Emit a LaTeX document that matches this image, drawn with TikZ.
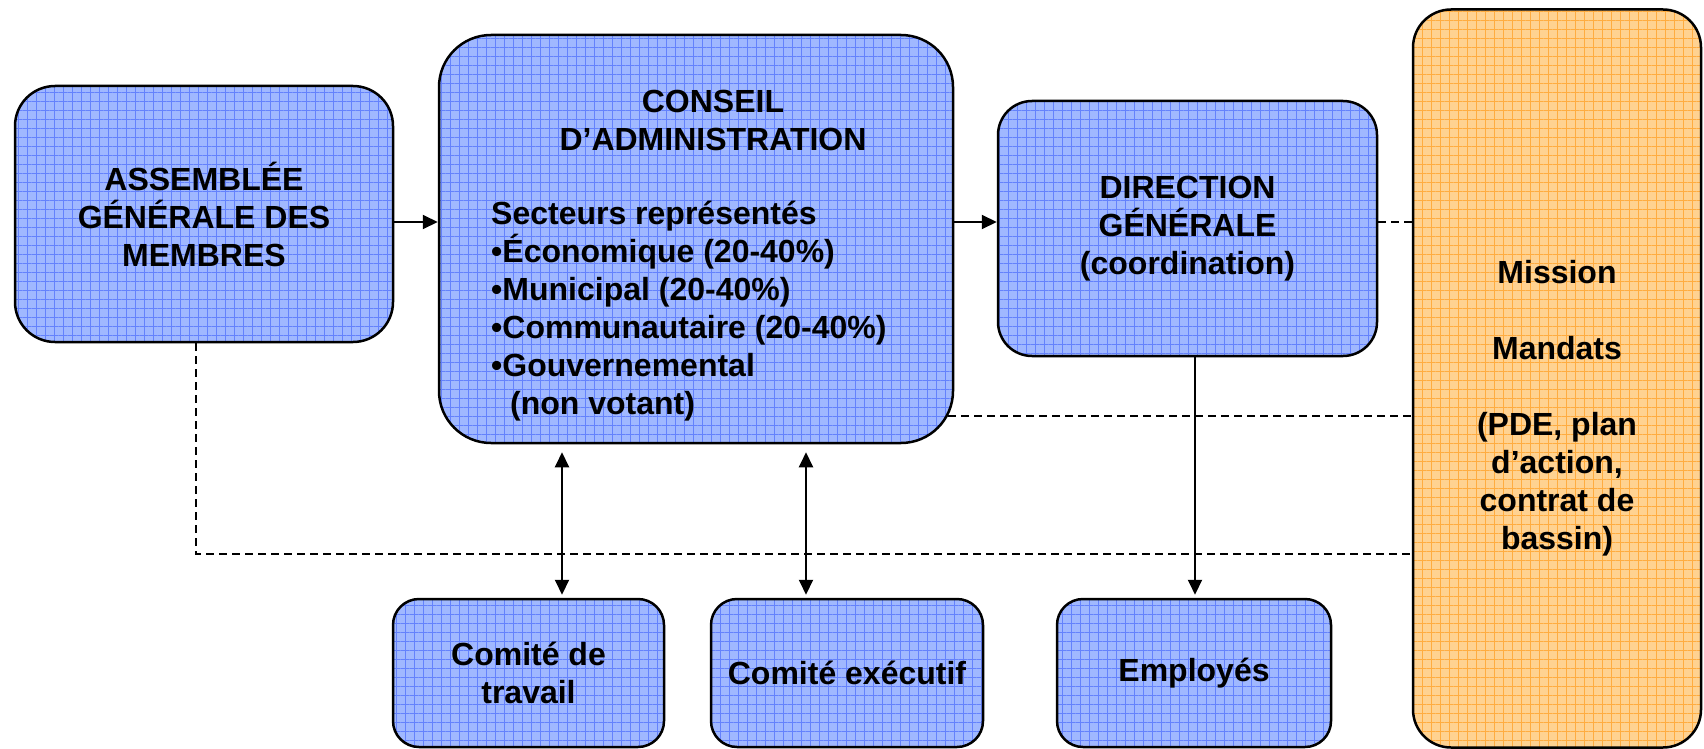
\documentclass[tikz,border=0pt]{standalone}
\usepackage{fontspec}
\setmainfont{Liberation Sans}
\usetikzlibrary{patterns.meta,arrows.meta}
\definecolor{boxblue}{RGB}{160,184,255}
\definecolor{gridblue}{RGB}{100,130,252}
\definecolor{boxorange}{RGB}{255,210,145}
\definecolor{gridorange}{RGB}{255,172,64}
\tikzset{
  txt/.style={font=\fontsize{32}{38}\selectfont\bfseries, align=center, inner sep=0pt},
  bluebox/.style={txt, preaction={fill=boxblue}, pattern={Hatch[angle=0,distance=9pt,line width=0.6pt]}, pattern color=gridblue, draw=black, line width=2.5pt},
  orangebox/.style={txt, preaction={fill=boxorange}, pattern={Hatch[angle=0,distance=9pt,line width=0.6pt]}, pattern color=gridorange, draw=black, line width=2.5pt},
  arr/.style={line width=2pt, -{Triangle[length=15pt,width=14pt]}},
  darr/.style={line width=2pt, {Triangle[length=15pt,width=14pt]}-{Triangle[length=15pt,width=14pt]}},
  dashline/.style={line width=2pt, dash pattern=on 8pt off 5pt}
}
\begin{document}
\begin{tikzpicture}[x=1pt,y=-1pt]
\useasboundingbox (0,0) rectangle (1704,749);
% boxes
\node[bluebox, rounded corners=40pt, minimum width=378pt, minimum height=256pt] (asm) at (204,214)
  {ASSEMBLÉE\\GÉNÉRALE DES\\MEMBRES};
\node[bluebox, rounded corners=52pt, minimum width=514pt, minimum height=408pt] (ca) at (696,239) {};
\node[txt] (ch) at (713,120) {CONSEIL\\D’ADMINISTRATION};
\node[txt, align=left, anchor=west] (cl) at (491,311)
  {Secteurs représentés\\•Économique (20-40\%)\\•Municipal (20-40\%)\\•Communautaire (20-40\%)\\•Gouvernemental\\\hspace*{19pt}(non votant)};
\node[bluebox, rounded corners=34pt, minimum width=379pt, minimum height=255pt] (dg) at (1187.5,228.5)
  {DIRECTION\\GÉNÉRALE\\(coordination)};
\node[orangebox, rounded corners=38pt, minimum width=288pt, minimum height=738pt] (mis) at (1557,378.5) {};
\node[txt] (mt) at (1557,408)
  {Mission\\[38pt]Mandats\\[38pt](PDE, plan\\d’action,\\contrat de\\bassin)};
\node[bluebox, rounded corners=26pt, minimum width=271pt, minimum height=148pt] (ct) at (528.5,673)
  {Comité de\\travail};
\node[bluebox, rounded corners=26pt, minimum width=272pt, minimum height=148pt] (ce) at (847,673)
  {Comité exécutif};
\node[bluebox, rounded corners=26pt, minimum width=274pt, minimum height=148pt] (emp) at (1194,673)
  {Employés};
% helper coordinates
\coordinate (r1) at (0,222);
\coordinate (r2) at (0,416);
\coordinate (r3) at (0,554);
\coordinate (c1) at (562,0);
\coordinate (c2) at (806,0);
\coordinate (c3) at (1195,0);
\coordinate (a0) at (196,0);
% connectors
\draw[arr] (asm.east |- r1) -- (ca.west |- r1);
\draw[arr] (ca.east |- r1) -- (dg.west |- r1);
\draw[dashline] (dg.east |- r1) -- (mis.west |- r1);
\draw[dashline] ([xshift=-6pt]ca.east |- r2) -- (mis.west |- r2);
\draw[dashline] (a0 |- asm.south) -- (a0 |- r3) -- (mis.west |- r3);
\draw[darr, shorten <=8pt, shorten >=3pt] (c1 |- ca.south) -- (c1 |- ct.north);
\draw[darr, shorten <=8pt, shorten >=3pt] (c2 |- ca.south) -- (c2 |- ce.north);
\draw[arr, shorten >=3pt] (c3 |- dg.south) -- (c3 |- emp.north);
\end{tikzpicture}
\end{document}
